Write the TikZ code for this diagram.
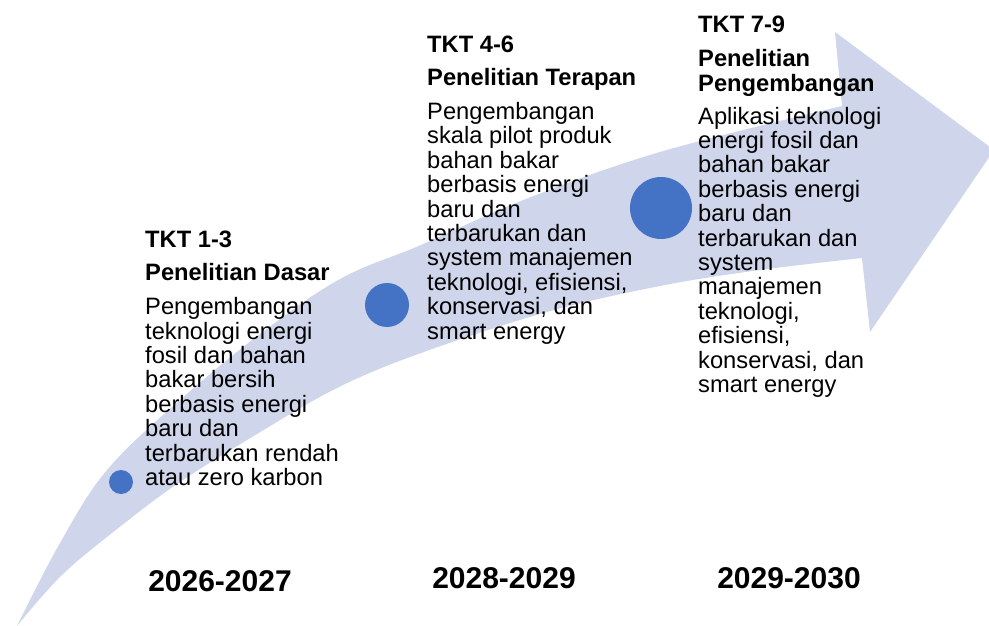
\documentclass[tikz,border=0pt]{standalone}
\usepackage{fontspec}
\setmainfont{Liberation Sans}
\definecolor{cband}{HTML}{CFD5EA}
\definecolor{cdot}{HTML}{4472C4}
\tikzset{
  dot/.style={circle, fill=cdot, inner sep=0pt, minimum size=#1},
  stage/.style={anchor=base west, align=left, inner sep=0pt, font=\fontsize{23.7}{24.4}\selectfont},
  year/.style={anchor=base, inner sep=0pt, font=\fontsize{30}{36}\selectfont\bfseries},
}

\begin{document}
\begin{tikzpicture}[x=1pt, y=-1pt]
  \useasboundingbox (0,0) rectangle (989,626);
  % curved band with its head
  \fill[cband] plot[smooth, tension=0.6] coordinates {(17,626) (60,543) (107,470) (180,400) (260,334) (340,279) (421,245) (526,199) (660,152) (842,106)}
    -- (835,32) -- (994,150) -- (870,332) -- (862,258)
    -- plot[smooth, tension=0.6] coordinates {(862,258) (760,270) (660,286) (547,312) (421,353) (337,388) (252,437) (180,482) (126,522) (63,574) (17,626)} -- cycle;
  % milestones
  \node[dot=24pt] (dot1) at (121,482) {};
  \node[dot=44pt] (dot2) at (387,305) {};
  \node[dot=62pt] (dot3) at (661,208) {};
  % stages (placed by the baseline of their last line)
  \node[stage] (tkt1) at (145,485.4) {\textbf{TKT 1-3}\\[9.4pt]\textbf{Penelitian Dasar}\\[9.4pt]Pengembangan\\teknologi energi\\fosil dan bahan\\bakar bersih\\berbasis energi\\baru dan\\terbarukan rendah\\atau zero karbon};
  \node[stage] (tkt2) at (427,339) {\textbf{TKT 4-6}\\[9.2pt]\textbf{Penelitian Terapan}\\[9.4pt]Pengembangan\\skala pilot produk\\bahan bakar\\berbasis energi\\baru dan\\terbarukan dan\\system manajemen\\teknologi, efisiensi,\\konservasi, dan\\smart energy};
  \node[stage] (tkt3) at (698,392.4) {\textbf{TKT 7-9}\\[9.6pt]\textbf{Penelitian}\\\textbf{Pengembangan}\\[8.6pt]Aplikasi teknologi\\energi fosil dan\\bahan bakar\\berbasis energi\\baru dan\\terbarukan dan\\system\\manajemen\\teknologi,\\efisiensi,\\konservasi, dan\\smart energy};
  % years
  \node[year] (year1) at (220,591) {2026-2027};
  \node[year] (year2) at (504,588) {2028-2029};
  \node[year] (year3) at (789,588) {2029-2030};
\end{tikzpicture}
\end{document}
